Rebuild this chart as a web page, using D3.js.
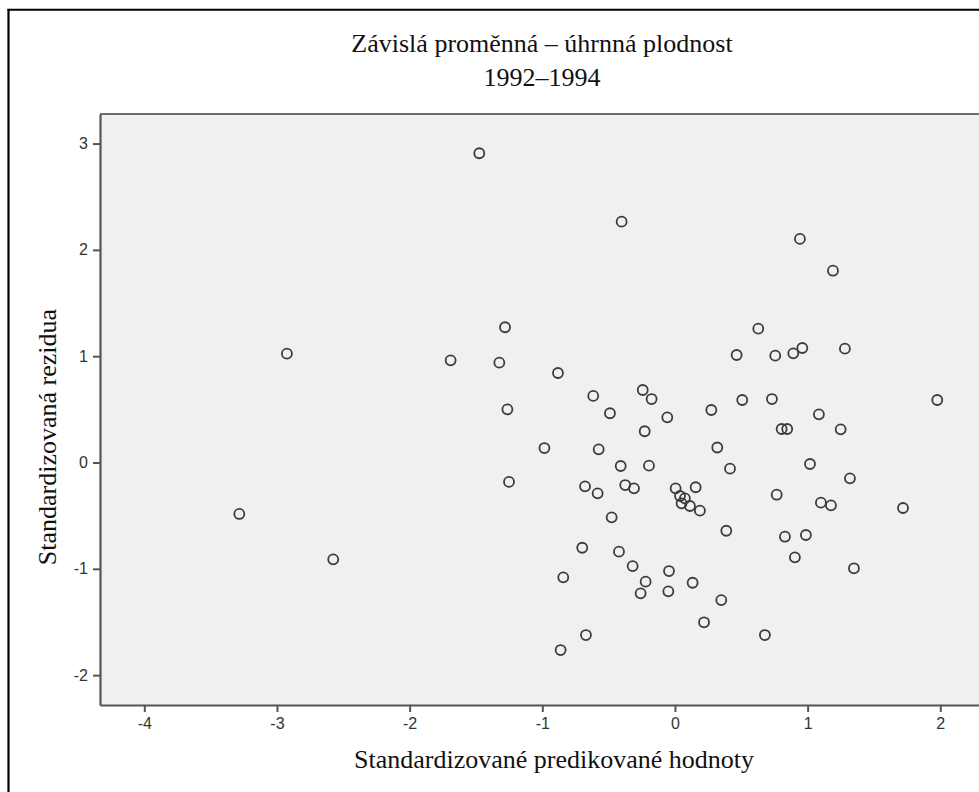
<!DOCTYPE html>
<html>
<head>
<meta charset="utf-8">
<script src="https://cdn.jsdelivr.net/npm/d3@7"></script>
<style>
  html, body { margin: 0; padding: 0; background: #fff; }
  svg { display: block; }
</style>
</head>
<body>
<svg id="chart" width="979" height="792"></svg>
<script>
// ---- data ----
const titleLines = ["Závislá proměnná – úhrnná plodnost", "1992–1994"];
const xLabel = "Standardizované predikované hodnoty";
const yLabel = "Standardizovaná rezidua";
const xTicks = [-4, -3, -2, -1, 0, 1, 2];
const yTicks = [-2, -1, 0, 1, 2, 3];

// standardized predicted values (x)
const predicted = [
  -1.475, -1.281, -0.402, 0.942, 1.191, 0.628, 0.465, 0.756, 0.892, 0.960,
  1.281, -1.324, -0.882, -0.616, -0.243, -0.176, -0.490, -0.058, 0.274, 0.507,
  0.731, 1.085, 1.249, 0.804, 0.846, 1.977, -1.263, -0.228, -0.984, -0.575,
  0.319, -0.409, -0.196, 0.415, 1.018, 1.319, -1.251, -0.678, -0.583, -0.375,
  -0.309, 0.005, 0.156, 0.038, 0.075, 0.050, 0.113, 0.188, 0.767, 1.100,
  1.176, 1.719, -0.477, 0.387, 0.829, 0.987, 0.904, 1.349, -0.699, -0.422,
  -0.842, -0.319, -0.045, -0.221, -0.259, -0.050, 0.133, 0.349, 0.219, 0.678,
  -0.671, -0.862, -2.925, -3.284, -1.691, -2.576
];
// standardized residuals (y)
const residuals = [
  2.909, 1.272, 2.265, 2.103, 1.804, 1.259, 1.011, 1.005, 1.027, 1.077,
  1.071, 0.939, 0.842, 0.626, 0.682, 0.597, 0.463, 0.425, 0.494, 0.588,
  0.597, 0.453, 0.312, 0.315, 0.315, 0.588, 0.500, 0.294, 0.136, 0.124,
  0.141, -0.033, -0.030, -0.058, -0.014, -0.149, -0.183, -0.224, -0.290, -0.212,
  -0.243, -0.243, -0.233, -0.315, -0.337, -0.384, -0.409, -0.453, -0.303, -0.378,
  -0.403, -0.428, -0.516, -0.642, -0.698, -0.682, -0.892, -0.995, -0.802, -0.839,
  -1.080, -0.974, -1.021, -1.121, -1.231, -1.212, -1.131, -1.294, -1.503, -1.623,
  -1.623, -1.764, 1.024, -0.484, 0.961, -0.911
];

// ---- layout ----
const svg = d3.select("#chart");
const plot = { left: 100, top: 114, right: 985, bottom: 705 };

const x = d3.scaleLinear().domain([-4.334, 2.337]).range([plot.left, plot.right]);
const y = d3.scaleLinear().domain([-2.281, 3.278]).range([plot.bottom, plot.top]);

// outer frame (left and top lines)
svg.append("line").attr("x1", 8.5).attr("x2", 8.5).attr("y1", 9).attr("y2", 800)
  .attr("stroke", "#000").attr("stroke-width", 2.2);
svg.append("line").attr("x1", 7.5).attr("x2", 990).attr("y1", 9.8).attr("y2", 9.8)
  .attr("stroke", "#000").attr("stroke-width", 2);

// plot background
svg.append("rect")
  .attr("x", plot.left).attr("y", plot.top)
  .attr("width", plot.right - plot.left).attr("height", plot.bottom - plot.top)
  .attr("fill", "#f0f0f0");

// top border of plot
svg.append("line").attr("x1", plot.left).attr("x2", plot.right)
  .attr("y1", plot.top).attr("y2", plot.top)
  .attr("stroke", "#6e6e6e").attr("stroke-width", 2);

// axes
const xAxis = d3.axisBottom(x).tickValues(xTicks).tickSize(7).tickPadding(6).tickSizeOuter(0)
  .tickFormat(d3.format("d"));
const yAxis = d3.axisLeft(y).tickValues(yTicks).tickSize(7).tickPadding(5).tickSizeOuter(0)
  .tickFormat(d3.format("d"));

const gx = svg.append("g").attr("transform", `translate(0,${plot.bottom})`).call(xAxis);
const gy = svg.append("g").attr("transform", `translate(${plot.left},0)`).call(yAxis);

[gx, gy].forEach(g => {
  g.attr("font-size", null).attr("font-family", null);
  g.select(".domain").attr("stroke", "#555").attr("stroke-width", 2.2);
  g.selectAll(".tick line").attr("stroke", "#555").attr("stroke-width", 2);
  g.selectAll(".tick text")
    .attr("fill", "#333")
    .style("font-family", "'Liberation Sans', Arial, sans-serif")
    .style("font-size", "16px");
});
gx.selectAll(".tick text").text(d => d < 0 ? "-" + Math.abs(d) : d);
gy.selectAll(".tick text").text(d => d < 0 ? "-" + Math.abs(d) : d);

// points
const pts = predicted.map((v, i) => ({ x: v, y: residuals[i] }));
svg.append("g").selectAll("circle").data(pts).join("circle")
  .attr("cx", d => x(d.x))
  .attr("cy", d => y(d.y))
  .attr("r", 5)
  .attr("fill", "none")
  .attr("stroke", "#3c3c3c")
  .attr("stroke-width", 1.8);

// titles
const serif = "'Liberation Serif', 'Times New Roman', serif";
svg.append("text").attr("x", 542).attr("y", 51.5).attr("text-anchor", "middle")
  .style("font-family", serif).style("font-size", "26px").attr("fill", "#111")
  .text(titleLines[0]);
svg.append("text").attr("x", 542).attr("y", 85.5).attr("text-anchor", "middle")
  .style("font-family", serif).style("font-size", "26px").attr("fill", "#111")
  .text(titleLines[1]);

svg.append("text").attr("x", 554).attr("y", 768).attr("text-anchor", "middle")
  .style("font-family", serif).style("font-size", "26px").attr("fill", "#111")
  .text(xLabel);

svg.append("text").attr("transform", "translate(56,437) rotate(-90)")
  .attr("text-anchor", "middle")
  .style("font-family", serif).style("font-size", "26px").attr("fill", "#111")
  .text(yLabel);
</script>
</body>
</html>
